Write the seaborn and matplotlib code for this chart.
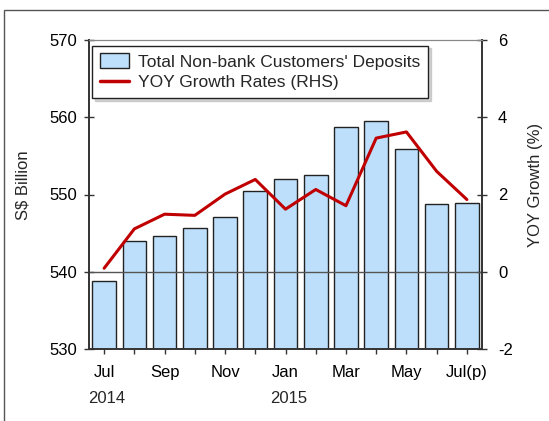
import matplotlib
matplotlib.use("Agg")
import matplotlib.pyplot as plt
import matplotlib.patches as mpatches
from matplotlib.lines import Line2D
import matplotlib.transforms as mtransforms
import seaborn as sns
import pandas as pd

# dati (Jul 2014 - Jul 2015)
months = ['Jul 2014', 'Aug 2014', 'Sep 2014', 'Oct 2014', 'Nov 2014', 'Dec 2014',
          'Jan 2015', 'Feb 2015', 'Mar 2015', 'Apr 2015', 'May 2015', 'Jun 2015', 'Jul 2015']
deposits = [538.8, 543.95, 544.6, 545.6, 547.05, 550.4, 552.0, 552.5, 558.8, 559.55, 555.9, 548.8, 548.9]
yoy_growth = [0.09, 1.11, 1.49, 1.46, 2.01, 2.39, 1.62, 2.13, 1.71, 3.46, 3.62, 2.60, 1.87]
tick_labels = ['Jul', '', 'Sep', '', 'Nov', '', 'Jan', '', 'Mar', '', 'May', '', 'Jul(p)']
year_labels = {0: '2014', 6: '2015'}

BAR_COLOR = '#BDDFFB'
LINE_COLOR = '#C00000'

sns.set_style('ticks')
plt.rcParams['font.family'] = ['Liberation Sans', 'DejaVu Sans']
plt.rcParams['axes.unicode_minus'] = False

df = pd.DataFrame({'Month': months, 'Deposits': deposits, 'Growth': yoy_growth})
df['pos'] = range(len(df))

fig = plt.figure(figsize=(5.49, 4.21), dpi=100)
ax = fig.add_axes([89 / 549, 1 - 349 / 421, 393 / 549, 309 / 421])

sns.barplot(data=df, x='Month', y='Deposits', color=BAR_COLOR, edgecolor='#222222',
            linewidth=1, width=0.78, saturation=1, ax=ax, zorder=2)
ax.set_ylim(530, 570)
ax.set_yticks([530, 540, 550, 560, 570])
ax.set_xlim(-0.5, len(months) - 0.5)
ax.set_xticks(range(len(months)))
ax.set_xticklabels(tick_labels)
ax.set_xlabel('')
ax.set_ylabel('S$ Billion', fontsize=12)
ax.yaxis.set_label_coords(-0.15, 0.53)

ax2 = ax.twinx()
ax2.axhline(0, color='#555555', lw=1, zorder=1)
sns.lineplot(data=df, x='pos', y='Growth', color=LINE_COLOR, lw=2.2, ax=ax2, zorder=3)
ax2.set_ylim(-2, 6)
ax2.set_yticks([-2, 0, 2, 4, 6])
ax2.set_xlim(-0.5, len(months) - 0.5)
ax2.set_xlabel('')
ax2.set_ylabel('YOY Growth (%)', fontsize=12)
ax2.yaxis.set_label_coords(1.117, 0.53)

for a in (ax, ax2):
    a.tick_params(axis='both', direction='inout', length=7, width=1, colors='#333333',
                  labelcolor='black', labelsize=12)
    for side in ('left', 'right', 'bottom'):
        a.spines[side].set_color('#333333')
        a.spines[side].set_linewidth(1.2)
    a.spines['top'].set_visible(True)
    a.spines['top'].set_color('#888888')
ax.tick_params(axis='x', length=7, pad=8)
ax.tick_params(axis='y', pad=5)
ax2.tick_params(axis='y', pad=8)

# etichette anno sotto i mesi
trans = mtransforms.blended_transform_factory(ax.transData, ax.transAxes)
for pos, yr in year_labels.items():
    ax.text(pos + 0.1, -0.16, yr, transform=trans, ha='center', va='center', fontsize=12)

handles = [mpatches.Patch(facecolor=BAR_COLOR, edgecolor='#222222', lw=1),
           Line2D([0], [0], color=LINE_COLOR, lw=2.5)]
labels = ["Total Non-bank Customers' Deposits", 'YOY Growth Rates (RHS)']
leg = ax2.legend(handles, labels, loc='upper left', bbox_to_anchor=(0.008, 0.982),
                 borderaxespad=0, fontsize=12.5, frameon=True, fancybox=False,
                 shadow={'color': '#aaaaaa', 'alpha': 0.5}, handlelength=1.7,
                 handleheight=0.9, labelspacing=0.25, borderpad=0.45, handletextpad=0.5)
leg.get_frame().set_edgecolor('#222222')
leg.get_frame().set_linewidth(1)

# bordo della figura
fig.patches.append(mpatches.Rectangle((3.5 / 549, -0.1), 1.2, 1 - 10 / 421 + 0.1,
                                      transform=fig.transFigure, fill=False,
                                      edgecolor='#555555', lw=1))

fig.savefig('out.png', dpi=100)
